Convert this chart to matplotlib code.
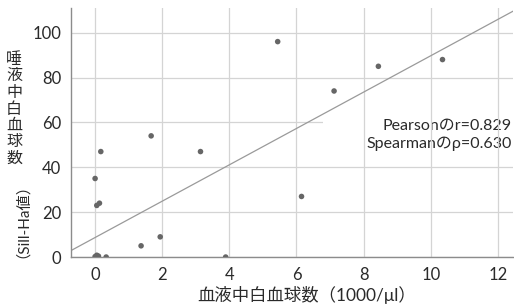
import matplotlib
matplotlib.use("Agg")
import numpy as np
import matplotlib.pyplot as plt
from matplotlib.patches import Rectangle

plt.rcParams['font.family'] = ['Lato', 'Noto Sans CJK JP', 'DejaVu Sans']

# blood WBC (1000/ul) vs saliva WBC (Sill-Ha)
blood_wbc = [0.00, 0.17, 0.05, 0.13, 1.67, 3.14, 1.94, 1.37, 3.89,
             0.05, 0.10, 0.00, 0.33, 5.44, 7.12, 8.44, 10.35, 6.15]
saliva_wbc = [35, 47, 23, 24, 54, 47, 9, 5, 0,
              0.8, 0.4, 0.2, 0, 96, 74, 85, 88, 27]

fit_slope = 8.1
fit_intercept = 8.7

x_ticks = [0, 2, 4, 6, 8, 10, 12]
y_ticks = [0, 20, 40, 60, 80, 100]
stats_text = "Pearsonのr=0.829\nSpearmanのρ=0.630"
y_label_upright = "唾液中白血球数"
y_label_rotated = "（Sill-Ha値）"

fig = plt.figure(figsize=(5.14, 3.06), dpi=100)
ax = fig.add_axes([0.138, 0.160, 0.860, 0.814])

ax.set_xlim(-0.72, 12.45)
ax.set_ylim(0, 111)
ax.set_xticks(x_ticks)
ax.set_yticks(y_ticks)

grid_col = '#d4d4d4'
ax.grid(axis='y', color=grid_col, linewidth=0.9, zorder=0)
ax.set_axisbelow(True)
for xt in x_ticks:
    ax.axvline(xt, color=grid_col, linewidth=0.9, zorder=1.5)

# white label box behind the stats text (hides the 60 gridline)
ax.add_patch(Rectangle((6.78, 57.5), 6.0, 5.0, facecolor='white', edgecolor='none', zorder=1))

xs = np.array(ax.get_xlim())
ax.plot(xs, fit_intercept + fit_slope * xs, color='#9a9a9a', linewidth=0.9, zorder=2)

ax.scatter(blood_wbc, saliva_wbc, s=16, color='#666666', edgecolors='none', zorder=3)

ax.text(12.42, 54.5, stats_text, ha='right', va='center', fontsize=11.5,
        color='#2a2a2a', linespacing=1.4, zorder=1,
        bbox=dict(boxstyle='square,pad=0.3', facecolor='white', edgecolor='none'))

for s in ['top', 'right']:
    ax.spines[s].set_visible(False)
for s in ['left', 'bottom']:
    ax.spines[s].set_color('#8c8c8c')
    ax.spines[s].set_linewidth(1.0)

ax.tick_params(length=0, labelsize=12, colors='#2a2a2a', pad=7)

fig.text(307 / 514, 1 - 295 / 306, "血液中白血球数（1000/μl）", ha='center', va='center',
         fontsize=12.5, color='#2a2a2a')

for i, ch in enumerate(y_label_upright):
    fig.text(14 / 514, 1 - (60 + 16.4 * i) / 306, ch, ha='center', va='center',
             fontsize=11.5, color='#2a2a2a')
fig.text(15 / 514, 1 - 213 / 306, y_label_rotated, ha='center', va='center',
         fontsize=11, color='#2a2a2a', rotation=90)

fig.savefig("out.png", dpi=100, facecolor='white')
